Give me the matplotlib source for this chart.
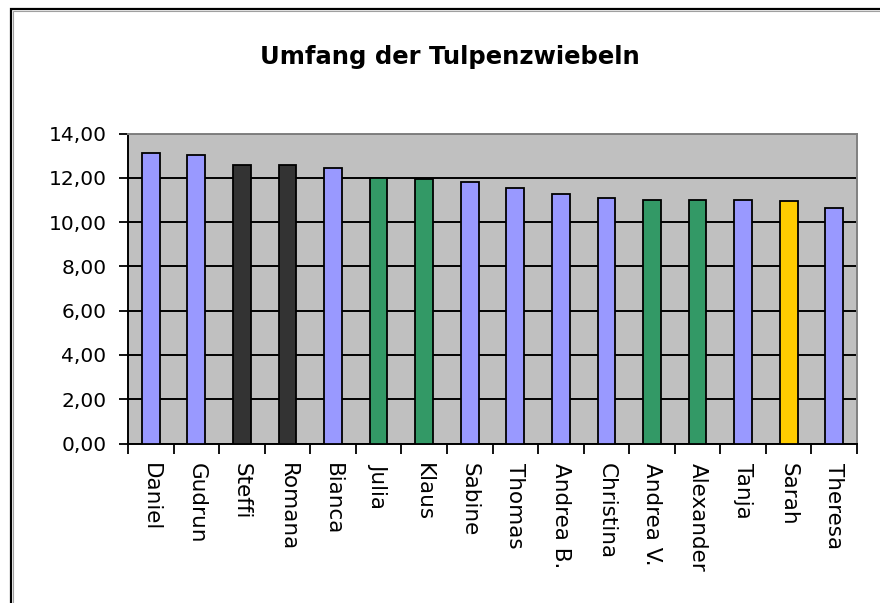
import matplotlib.pyplot as plt
from matplotlib.patches import Rectangle
from matplotlib.ticker import FuncFormatter, FixedLocator

# Daten
namen = ['Daniel', 'Gudrun', 'Steffi', 'Romana', 'Bianca', 'Julia', 'Klaus', 'Sabine',
         'Thomas', 'Andrea B.', 'Christina', 'Andrea V.', 'Alexander', 'Tanja', 'Sarah', 'Theresa']
umfang = [13.10, 13.02, 12.57, 12.57, 12.43, 12.00, 11.95, 11.81,
          11.53, 11.27, 11.08, 10.98, 10.98, 10.98, 10.97, 10.62]
farben = ['#9999FF', '#9999FF', '#333333', '#333333', '#9999FF', '#339966', '#339966', '#9999FF',
          '#9999FF', '#9999FF', '#9999FF', '#339966', '#339966', '#9999FF', '#FFCC00', '#9999FF']
y_ticks = [0, 2, 4, 6, 8, 10, 12, 14]

W, H = 880, 603
fig = plt.figure(figsize=(W / 100, H / 100), dpi=100)

# Rahmen des Diagrammbereichs (laeuft rechts und unten aus dem Bild)
fig.patches.append(Rectangle((11 / W, -0.05), 1.0, 1 - 9 / H + 0.05, transform=fig.transFigure,
                             fill=False, edgecolor='black', linewidth=1.6, zorder=0))
fig.patches.append(Rectangle((13 / W, -0.05), 1.0, 1 - 11 / H + 0.05, transform=fig.transFigure,
                             fill=False, edgecolor='#A0A0A0', linewidth=0.8, zorder=0))

ax = fig.add_axes([128 / W, 1 - 443.5 / H, (857 - 128) / W, (443.5 - 133.5) / H])
ax.set_facecolor('#C0C0C0')

x = list(range(len(namen)))
ax.bar(x, umfang, width=0.39, color=farben, edgecolor='black', linewidth=1.3, zorder=3)

ax.set_xlim(-0.5, len(namen) - 0.5)
ax.set_ylim(0, 14)
ax.yaxis.set_major_locator(FixedLocator(y_ticks))
ax.yaxis.set_major_formatter(FuncFormatter(lambda v, p: f'{v:.2f}'.replace('.', ',')))
ax.grid(axis='y', color='black', linewidth=1.4, zorder=1)
ax.set_axisbelow(True)

ax.set_xticks(x)
ax.set_xticklabels(namen, rotation=270, fontsize=15.5, va='top', ha='center')
ax.set_xticks([i - 0.5 for i in range(len(namen) + 1)], minor=True)
ax.tick_params(axis='x', which='major', length=0, pad=14)
ax.tick_params(axis='x', which='minor', length=7, width=1.3, direction='out')
ax.tick_params(axis='y', length=6.5, width=1.3, direction='out', labelsize=14.5, pad=9)

for s in ['top', 'right']:
    ax.spines[s].set_color('#808080')
    ax.spines[s].set_linewidth(1.4)
for s in ['left', 'bottom']:
    ax.spines[s].set_color('black')
    ax.spines[s].set_linewidth(1.4)

fig.text(450 / W, 1 - 57 / H, 'Umfang der Tulpenzwiebeln', ha='center', va='center',
         fontsize=17.5, fontweight='bold')

fig.savefig('out.png', dpi=100)
